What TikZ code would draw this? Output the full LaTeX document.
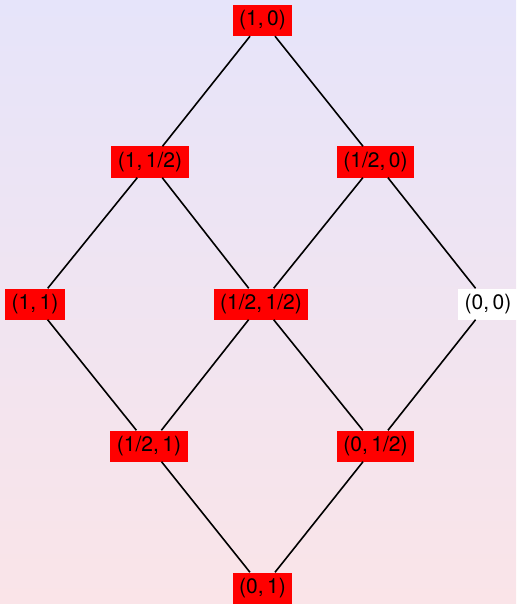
\documentclass[tikz,border=0pt]{standalone}
\usepackage{fontspec}
\setmainfont{TeX Gyre Heros}
\begin{document}
\begin{tikzpicture}[x=1pt,y=-1pt,
  lat/.style={fill=red,text=black,inner xsep=6.5pt,inner ysep=0pt,minimum height=31pt,font=\fontsize{21}{24}\selectfont},
  latw/.style={lat,fill=white},
  edge/.style={draw=black,line width=1.6pt}]
\shade[top color={rgb,255:red,230;green,228;blue,250},bottom color={rgb,255:red,250;green,228;blue,232}] (0,0) rectangle (516,604);
\useasboundingbox (0,0) rectangle (516,604);
\node[lat] (a) at (262.5,20.5) {(1,\,0)};
\node[lat] (b) at (150,162) {(1,\,1/2)};
\node[lat] (c) at (375.5,162) {(1/2,\,0)};
\node[lat] (d) at (35,304) {(1,\,1)};
\node[lat] (e) at (261,304) {(1/2,\,1/2)};
\node[latw] (f) at (488,304) {(0,\,0)};
\node[lat] (g) at (149,446) {(1/2,\,1)};
\node[lat] (h) at (375.5,446) {(0,\,1/2)};
\node[lat] (i) at (262.5,588) {(0,\,1)};
\draw[edge] (a)--(b); \draw[edge] (a)--(c);
\draw[edge] (b)--(d); \draw[edge] (b)--(e);
\draw[edge] (c)--(e); \draw[edge] (c)--(f);
\draw[edge] (d)--(g); \draw[edge] (e)--(g);
\draw[edge] (e)--(h); \draw[edge] (f)--(h);
\draw[edge] (g)--(i); \draw[edge] (h)--(i);
\end{tikzpicture}
\end{document}
